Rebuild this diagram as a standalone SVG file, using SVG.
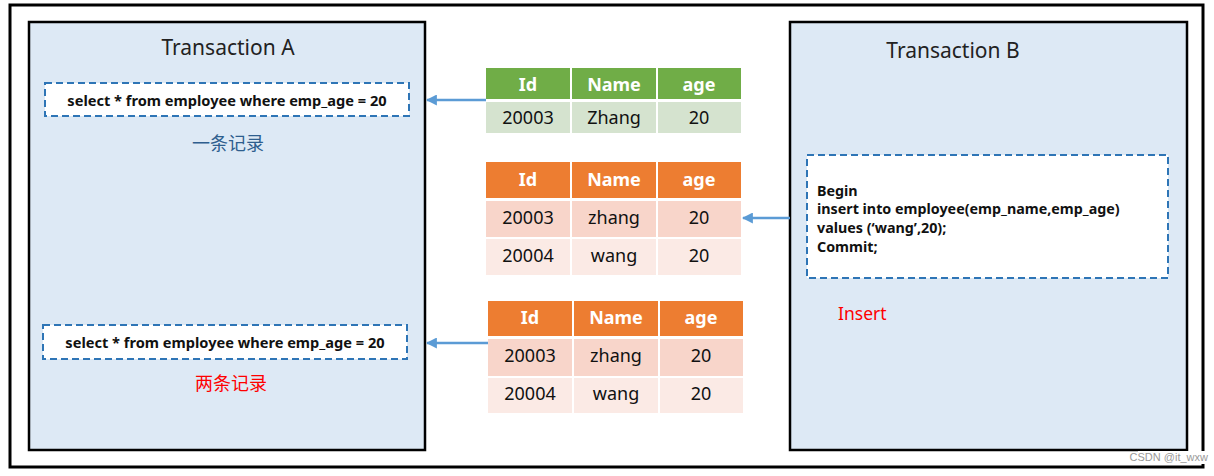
<svg xmlns="http://www.w3.org/2000/svg" width="1214" height="476" viewBox="0 0 1214 476">
<defs>
<style>
.txn{fill:#DDE9F5;stroke:#000;stroke-width:2.5}
.title{font-family:"Noto Sans","Liberation Sans",sans-serif;font-size:21px;fill:#222;text-anchor:middle}
.dash{fill:#fff;stroke:#2E75B6;stroke-width:2;stroke-dasharray:7,4}
.sql{font-family:"Noto Sans","Liberation Sans",sans-serif;font-size:14.6px;font-weight:bold;fill:#111}
.sqlb{font-family:"Noto Sans","Liberation Sans",sans-serif;font-size:14.3px;font-weight:bold;fill:#111}
.hd{font-family:"Noto Sans","Liberation Sans",sans-serif;font-size:18px;font-weight:bold;fill:#fff;text-anchor:middle}
.cell{font-family:"Noto Sans","Liberation Sans",sans-serif;font-size:18px;fill:#111;text-anchor:middle}
.cn{font-family:"Noto Sans CJK SC","Noto Sans",sans-serif;font-size:18px;text-anchor:middle}
.conn{stroke:#5B9BD5;stroke-width:2.5;fill:none;marker-end:url(#ah)}
.gh{fill:#70AD47}.gr{fill:#D5E3CF}
.oh{fill:#ED7D31}.o1{fill:#F8D5CA}.o2{fill:#FBEAE5}
</style>
<marker id="ah" viewBox="0 0 10 10" refX="9" refY="5" markerWidth="4.4" markerHeight="4.4" orient="auto">
<path d="M0,0 L10,5 L0,10 z" fill="#5B9BD5"/>
</marker>
</defs>
<rect width="1214" height="476" fill="#fff"/>
<rect x="10" y="5" width="1193" height="462" fill="none" stroke="#000" stroke-width="3"/>

<g id="transactionA">
<rect class="txn" x="29" y="22" width="396" height="428"/>
<text class="title" x="228" y="55">Transaction A</text>
</g>
<g id="queryA1">
<rect class="dash" x="45" y="83" width="364" height="33"/>
<text class="sql" x="227" y="106" text-anchor="middle">select * from employee where emp_age = 20</text>
</g>
<text id="result1" class="cn" x="228" y="150" fill="#2E5E8E">一条记录</text>
<g id="queryA2">
<rect class="dash" x="43" y="325" width="364" height="34"/>
<text class="sql" x="225" y="348" text-anchor="middle">select * from employee where emp_age = 20</text>
</g>
<text id="result2" class="cn" x="231" y="390" fill="#FF0000">两条记录</text>

<g id="transactionB">
<rect class="txn" x="790" y="22" width="397" height="428"/>
<text class="title" x="953" y="58">Transaction B</text>
</g>
<g id="insertB">
<rect class="dash" x="807" y="155" width="361" height="123"/>
<text class="sqlb" x="817" y="196">Begin</text>
<text class="sqlb" x="817" y="214">insert into employee(emp_name,emp_age)</text>
<text class="sqlb" x="817" y="233">values (‘wang’,20);</text>
<text class="sqlb" x="817" y="252">Commit;</text>
</g>
<text id="insertLabel" x="838" y="320" font-family="Noto Sans, Liberation Sans, sans-serif" font-size="17.5" fill="#FF0000">Insert</text>

<g id="table1">
<rect class="gh" x="486" y="68" width="84" height="31"/>
<rect class="gh" x="572" y="68" width="84" height="31"/>
<rect class="gh" x="658" y="68" width="83" height="31"/>
<rect class="gr" x="486" y="102" width="84" height="31"/>
<rect class="gr" x="572" y="102" width="84" height="31"/>
<rect class="gr" x="658" y="102" width="83" height="31"/>
<text class="hd" x="528" y="91">Id</text>
<text class="hd" x="614" y="91">Name</text>
<text class="hd" x="699" y="91">age</text>
<text class="cell" x="528" y="124">20003</text>
<text class="cell" x="614" y="124">Zhang</text>
<text class="cell" x="699" y="124">20</text>
</g>

<g id="table2">
<rect class="oh" x="486" y="162" width="84" height="36"/>
<rect class="oh" x="572" y="162" width="84" height="36"/>
<rect class="oh" x="658" y="162" width="83" height="36"/>
<rect class="o1" x="486" y="201" width="84" height="36"/>
<rect class="o1" x="572" y="201" width="84" height="36"/>
<rect class="o1" x="658" y="201" width="83" height="36"/>
<rect class="o2" x="486" y="239" width="84" height="36"/>
<rect class="o2" x="572" y="239" width="84" height="36"/>
<rect class="o2" x="658" y="239" width="83" height="36"/>
<text class="hd" x="528" y="186">Id</text>
<text class="hd" x="614" y="186">Name</text>
<text class="hd" x="699" y="186">age</text>
<text class="cell" x="528" y="224">20003</text>
<text class="cell" x="614" y="224">zhang</text>
<text class="cell" x="699" y="224">20</text>
<text class="cell" x="528" y="262">20004</text>
<text class="cell" x="614" y="262">wang</text>
<text class="cell" x="699" y="262">20</text>
</g>

<g id="table3">
<rect class="oh" x="488" y="301" width="84" height="35"/>
<rect class="oh" x="574" y="301" width="84" height="35"/>
<rect class="oh" x="660" y="301" width="83" height="35"/>
<rect class="o1" x="488" y="339" width="84" height="37"/>
<rect class="o1" x="574" y="339" width="84" height="37"/>
<rect class="o1" x="660" y="339" width="83" height="37"/>
<rect class="o2" x="488" y="378" width="84" height="35"/>
<rect class="o2" x="574" y="378" width="84" height="35"/>
<rect class="o2" x="660" y="378" width="83" height="35"/>
<text class="hd" x="530" y="324">Id</text>
<text class="hd" x="616" y="324">Name</text>
<text class="hd" x="701" y="324">age</text>
<text class="cell" x="530" y="362">20003</text>
<text class="cell" x="616" y="362">zhang</text>
<text class="cell" x="701" y="362">20</text>
<text class="cell" x="530" y="400">20004</text>
<text class="cell" x="616" y="400">wang</text>
<text class="cell" x="701" y="400">20</text>
</g>

<g id="connectors">
<line class="conn" x1="486" y1="100" x2="427" y2="100"/>
<line class="conn" x1="790" y1="218" x2="743" y2="218"/>
<line class="conn" x1="488" y1="343" x2="427" y2="343"/>
</g>

<rect x="1138" y="451" width="72" height="13" fill="#fff"/>
<text id="watermark" x="1208" y="461" text-anchor="end" font-family="Liberation Sans, sans-serif" font-size="11" fill="#999">CSDN @it_wxw</text>
</svg>
